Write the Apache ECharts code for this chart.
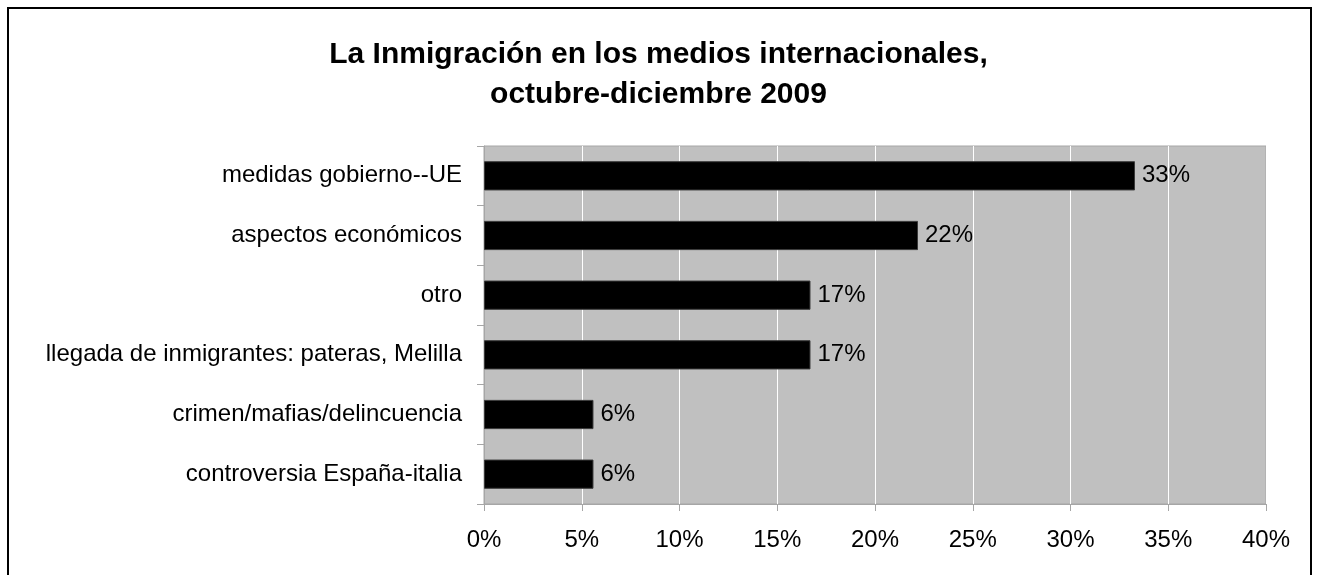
<!DOCTYPE html>
<html>
<head>
<meta charset="utf-8">
<style>
  html, body { margin: 0; padding: 0; background: #fff; }
  #chart { width: 1317px; height: 575px; }
</style>
<script src="https://cdn.jsdelivr.net/npm/echarts@6/dist/echarts.min.js"></script>
</head>
<body>
<div id="chart"></div>
<script>
// Topic categories, listed top to bottom
const categories = [
  'medidas gobierno--UE',
  'aspectos económicos',
  'otro',
  'llegada de inmigrantes: pateras, Melilla',
  'crimen/mafias/delincuencia',
  'controversia España-italia'
];
// Share of coverage per topic, in percent
const shares = [33.3, 22.2, 16.7, 16.7, 5.6, 5.6];
// Percentage axis
const axisMin = 0;
const axisMax = 40;
const axisStep = 5;

const titleText = 'La Inmigración en los medios internacionales,\noctubre-diciembre 2009';
const FONT = 'Liberation Sans, Arial, sans-serif';

const chart = echarts.init(document.getElementById('chart'), null, { renderer: 'canvas' });

chart.setOption({
  backgroundColor: '#ffffff',
  animation: false,
  title: {
    text: titleText,
    left: 'center',
    top: 30,
    textStyle: {
      fontFamily: FONT,
      fontSize: 30,
      fontWeight: 'bold',
      color: '#000',
      lineHeight: 40
    }
  },
  graphic: [{
    type: 'rect',
    shape: { x: 8, y: 8, width: 1303, height: 620 },
    style: { fill: 'none', stroke: '#000', lineWidth: 2 },
    silent: true
  }],
  grid: {
    left: 484,
    right: 51,
    top: 146,
    bottom: 71,
    show: true,
    backgroundColor: '#c0c0c0',
    borderColor: '#a6a6a6',
    borderWidth: 1
  },
  xAxis: {
    type: 'value',
    min: axisMin,
    max: axisMax,
    interval: axisStep,
    axisLine: { show: true, lineStyle: { color: '#a6a6a6', width: 1 } },
    axisTick: { show: true, length: 7, lineStyle: { color: '#a6a6a6' } },
    splitLine: { show: true, lineStyle: { color: '#ffffff', width: 1 } },
    axisLabel: {
      margin: 24,
      fontFamily: FONT,
      fontSize: 24,
      color: '#000',
      formatter: v => v + '%'
    }
  },
  yAxis: {
    type: 'category',
    data: categories,
    inverse: true,
    axisLine: { show: true, lineStyle: { color: '#a6a6a6', width: 1 } },
    axisTick: { show: true, length: 7, lineStyle: { color: '#a6a6a6' } },
    splitLine: { show: false },
    axisLabel: {
      margin: 22,
      fontFamily: FONT,
      fontSize: 24,
      color: '#000'
    }
  },
  series: [{
    type: 'bar',
    data: shares,
    barCategoryGap: '51%',
    itemStyle: { color: '#000', borderColor: '#3a3a3a', borderWidth: 1 },
    label: {
      show: true,
      position: 'right',
      distance: 7,
      fontFamily: FONT,
      fontSize: 24,
      color: '#000',
      formatter: p => Math.round(p.value) + '%'
    }
  }]
});
</script>
</body>
</html>
